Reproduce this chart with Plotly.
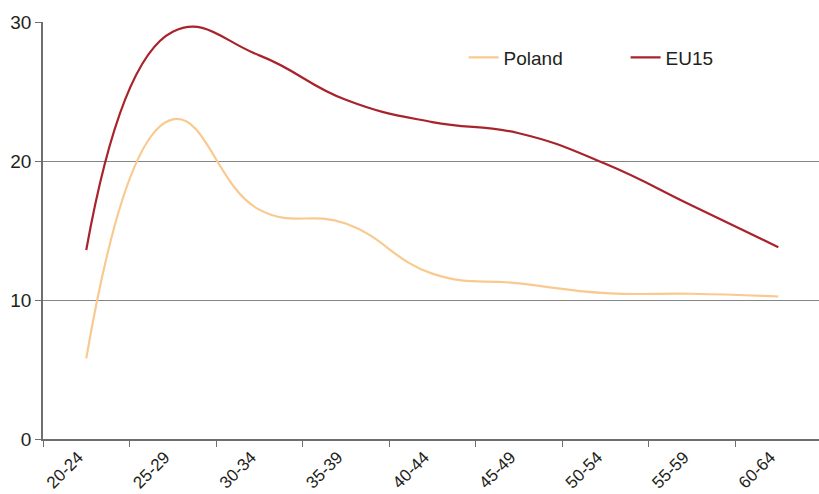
import plotly.graph_objects as go

# Age groups on the category axis
age_groups = ["20-24", "25-29", "30-34", "35-39", "40-44",
              "45-49", "50-54", "55-59", "60-64"]

# Series values by age group
poland = [5.8, 23.0, 16.5, 15.5, 11.9, 11.2, 10.5, 10.45, 10.25]
eu15 = [13.6, 29.3, 27.6, 24.4, 22.8, 22.0, 19.8, 16.8, 13.8]

y_ticks = [0, 10, 20, 30]

TEXT = "#231f20"
GRID = "#858585"
AXIS = "#6e6e6e"

fig = go.Figure()
fig.add_trace(go.Scatter(
    x=age_groups, y=poland, name="Poland", mode="lines",
    line=dict(color="#f9c98f", width=2.2, shape="spline", smoothing=1.3),
))
fig.add_trace(go.Scatter(
    x=age_groups, y=eu15, name="EU15", mode="lines",
    line=dict(color="#a8232b", width=2.2, shape="spline", smoothing=1.3),
))

fig.update_layout(
    width=819, height=494,
    margin=dict(l=43, r=0, t=22, b=55),
    paper_bgcolor="white", plot_bgcolor="white",
    font=dict(family="Liberation Sans, Arial, sans-serif", size=19, color=TEXT),
    showlegend=True,
    legend=dict(
        orientation="h", x=0.542, y=0.915, xanchor="left", yanchor="middle",
        bgcolor="rgba(0,0,0,0)", font=dict(size=19, color=TEXT),
        entrywidth=117, itemwidth=30,
    ),
)

fig.update_xaxes(
    type="category", range=[-0.5, 8.47], automargin=False,
    tickson="boundaries", ticks="outside", ticklen=6, tickcolor=AXIS,
    tickangle=-45, tickfont=dict(size=17, color=TEXT),
    ticklabelstandoff=0, ticklabelshift=-8,
    showline=True, linecolor=AXIS, linewidth=1.5,
    showgrid=False, zeroline=False,
)
fig.update_yaxes(
    range=[0, 30], tickvals=y_ticks, automargin=False,
    ticks="outside", ticklen=6, tickcolor=AXIS,
    tickfont=dict(size=19, color=TEXT),
    showline=True, linecolor=AXIS, linewidth=1.5,
    showgrid=True, gridcolor=GRID, gridwidth=1.3, zeroline=False,
)

fig.write_html("out.html")
